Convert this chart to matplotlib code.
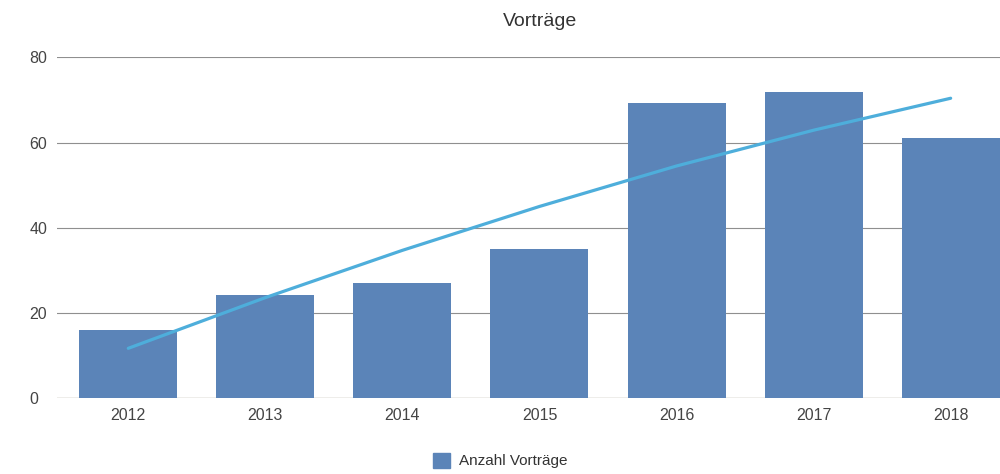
import numpy as np
import matplotlib.pyplot as plt
from matplotlib.patches import Patch

plt.rcParams['font.family'] = ['Liberation Sans', 'DejaVu Sans']

# Daten
jahre = ['2012', '2013', '2014', '2015', '2016', '2017', '2018']
vortraege = [16, 24.2, 27, 35.1, 69.2, 71.8, 61.1]
trend = [11.7, 23.6, 34.7, 45.0, 54.5, 62.9, 70.4]

bar_color = '#5b84b8'
line_color = '#4eaedb'

fig = plt.figure(figsize=(10, 4.74), dpi=100)
ax = fig.add_axes([0.057, 0.16, 0.943, 0.719])

x = np.arange(len(jahre))
ax.bar(x, vortraege, width=0.715, color=bar_color, zorder=2)
ax.plot(x, trend, color=line_color, linewidth=2.3, solid_capstyle='round', zorder=3)

ax.set_ylim(0, 80)
ax.set_xlim(-0.52, 6.36)
ax.set_yticks([0, 20, 40, 60, 80])
ax.set_xticks(x)
ax.set_xticklabels(jahre)
ax.yaxis.grid(True, color='#8f8f8f', linewidth=0.8, zorder=1)
ax.set_axisbelow(True)
for s in ax.spines.values():
    s.set_visible(False)
ax.axhline(0, color='#c8c0b4', linewidth=1.0, zorder=1)
ax.tick_params(axis='both', length=0, labelsize=11.5, colors='#444444')
ax.tick_params(axis='x', pad=7)
for lbl in ax.get_yticklabels():
    lbl.set_horizontalalignment('left')
ax.yaxis.set_tick_params(pad=20)

fig.text(0.54, 0.955, 'Vorträge', ha='center', va='center', fontsize=14, color='#333333')

fig.legend(handles=[Patch(color=bar_color, label='Anzahl Vorträge')],
           loc='center', bbox_to_anchor=(0.5, 0.028), frameon=False,
           fontsize=11, handlelength=1.1, handleheight=1.1, handletextpad=0.6,
           labelcolor='#333333')

fig.savefig('out.png', dpi=100)
